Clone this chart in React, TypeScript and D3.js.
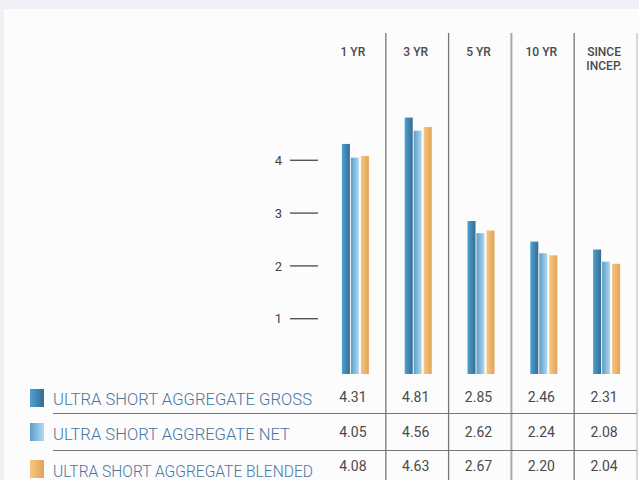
import React from "react";
import * as d3 from "d3";

const categories = ["1 YR", "3 YR", "5 YR", "10 YR", "SINCE INCEP."];
const headerLines = [["1 YR"], ["3 YR"], ["5 YR"], ["10 YR"], ["SINCE", "INCEP."]];
const seriesNames = [
  "ULTRA SHORT AGGREGATE GROSS",
  "ULTRA SHORT AGGREGATE NET",
  "ULTRA SHORT AGGREGATE BLENDED",
];
const grossValues = [4.31, 4.81, 2.85, 2.46, 2.31];
const netValues = [4.05, 4.56, 2.62, 2.24, 2.08];
const blendedValues = [4.08, 4.63, 2.67, 2.2, 2.04];
const yTicks = [1, 2, 3, 4];

const W = 639;
const H = 480;

const seriesValues = [grossValues, netValues, blendedValues];
const gradients = [
  ["#4ba2d4", "#3a6a90"],
  ["#5a9dca", "#b2d9f0"],
  ["#f7c680", "#e1a35a"],
];
const legendWidths = [259, 237, 260];
const sepColors = ["#777", "#777", "#aaa", "#777", "#ccc"];
const sepWidths = [1.3, 1.3, 2, 1.3, 1.5];

export default function App() {
  const x = d3.scaleBand<string>().domain(categories).range([323, 637]).padding(0);
  const y = d3.scaleLinear().domain([0, 1]).range([371.5, 318.7]);
  const barW = 8;
  const offsets = [0, 9, 19];
  const groupW = 27;
  const barBase = y(0) + 2.5;
  const fmt = d3.format(".2f");

  const rowTextY = [405, 440, 476.5];
  const rowNumY = [401.8, 437, 471];
  const squareY = [389, 423, 460];
  const rowLineY = [413.5, 450.5];

  return (
    <svg
      width={W}
      height={H}
      style={{ position: "fixed", left: 0, top: 0, display: "block" }}
    >
      <defs>
        {gradients.map((g, i) => (
          <linearGradient key={i} id={`grad${i}`} x1="0" x2="1" y1="0" y2="0">
            <stop offset="0" stopColor={g[0]} />
            <stop offset="1" stopColor={g[1]} />
          </linearGradient>
        ))}
      </defs>
      <rect x={0} y={0} width={W} height={H} fill="#eff1f6" />
      <rect x={4} y={9} width={W - 4} height={H - 9} fill="#fcfcfc" />

      {/* column separators */}
      {categories.map((c, i) => {
        const xe = (x(c) ?? 0) + x.bandwidth();
        return (
          <line
            key={c}
            x1={xe}
            x2={xe}
            y1={33}
            y2={H}
            stroke={sepColors[i]}
            strokeWidth={sepWidths[i]}
          />
        );
      })}

      {/* headers */}
      {categories.map((c, i) => {
        const cx = (x(c) ?? 0) + x.bandwidth() / 2 - 1.5;
        return (
          <text
            key={c}
            x={cx}
            y={55.5}
            textAnchor="middle"
            fontFamily="Roboto, sans-serif"
            fontWeight={500}
            fontSize={12}
            fill="#4a4a4a"
          >
            {headerLines[i].map((l, j) => (
              <tspan key={j} x={cx} dy={j === 0 ? 0 : 14}>
                {l}
              </tspan>
            ))}
          </text>
        );
      })}

      {/* y ticks */}
      {yTicks.map((t) => (
        <g key={t}>
          <line x1={290} x2={318} y1={y(t)} y2={y(t)} stroke="#555" strokeWidth={1.4} />
          <text
            x={282}
            y={y(t) + 4.6}
            textAnchor="end"
            fontFamily="Roboto, sans-serif"
            fontSize={13}
            fill="#444"
          >
            {t}
          </text>
        </g>
      ))}

      {/* bars */}
      {categories.map((c) => {
        const start = (x(c) ?? 0) + x.bandwidth() / 2 - groupW / 2 + 1;
        const ci = categories.indexOf(c);
        return (
          <g key={c}>
            {seriesValues.map((vals, si) => (
              <rect
                key={si}
                x={start + offsets[si]}
                y={y(vals[ci])}
                width={barW}
                height={barBase - y(vals[ci])}
                fill={`url(#grad${si})`}
              />
            ))}
          </g>
        );
      })}

      {/* table row lines */}
      {rowLineY.map((ly, i) => (
        <line key={i} x1={53} x2={637} y1={ly} y2={ly} stroke="#777" strokeWidth={1.2} />
      ))}

      {/* legend rows */}
      {seriesNames.map((name, si) => (
        <g key={name}>
          <rect x={30} y={squareY[si]} width={14} height={18} fill={`url(#grad${si})`} />
          <text
            x={53}
            y={rowTextY[si]}
            fontFamily="Roboto, sans-serif"
            fontWeight={300}
            fontSize={16.5}
            fill="#4577a4"
            textLength={legendWidths[si]}
            lengthAdjust="spacingAndGlyphs"
          >
            {name}
          </text>
          {categories.map((c, ci) => (
            <text
              key={c}
              x={(x(c) ?? 0) + x.bandwidth() / 2 - 1.5}
              y={rowNumY[si]}
              textAnchor="middle"
              fontFamily="Roboto, sans-serif"
              fontSize={14}
              fill="#4a4a4a"
            >
              {fmt(seriesValues[si][ci])}
            </text>
          ))}
        </g>
      ))}
    </svg>
  );
}
